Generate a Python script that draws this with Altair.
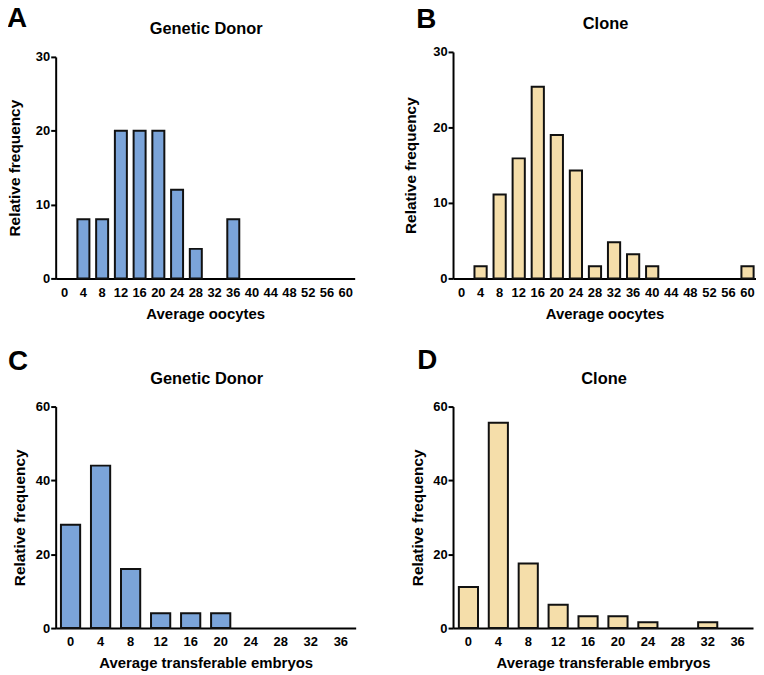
import altair as alt
import pandas as pd

# ---------------- data ----------------
oocyte_bins = [0, 4, 8, 12, 16, 20, 24, 28, 32, 36, 40, 44, 48, 52, 56, 60]
donor_oocytes = [0, 8, 8, 20, 20, 20, 12, 4, 0, 8, 0, 0, 0, 0, 0, 0]
clone_oocytes = [0, 1.6, 11.1, 15.9, 25.4, 19.0, 14.3, 1.6, 4.8, 3.2, 1.6, 0, 0, 0, 0, 1.6]

embryo_bins = [0, 4, 8, 12, 16, 20, 24, 28, 32, 36]
donor_embryos = [28, 44, 16, 4, 4, 4, 0, 0, 0, 0]
clone_embryos = [11.1, 55.6, 17.5, 6.3, 3.2, 3.2, 1.6, 0, 1.6, 0]

oocyte_ticks = [0, 10, 20, 30]
embryo_ticks = [0, 20, 40, 60]

BLUE = "#7BA4D9"
BEIGE = "#F5DEAA"
FONT = "Liberation Sans"
H = 228


def panel(bins, values, color, letter, title, xtitle, ticks, width, top, po,
          title_y, ytitle_x, lx, ly):
    cats = [str(b) for b in bins]
    df = pd.DataFrame({"bin": cats, "freq": values})
    x = alt.X(
        "bin:N", sort=cats,
        scale=alt.Scale(domain=cats, paddingInner=0.36, paddingOuter=po),
        axis=alt.Axis(title=xtitle, labelAngle=0, ticks=False, tickSize=0,
                      labelPadding=18, labelBaseline="alphabetic",
                      labelFont=FONT, labelFontSize=13, labelFontWeight="bold",
                      labelColor="black", domainColor="black", domainWidth=2,
                      titleFont=FONT, titleFontSize=15, titleFontWeight="bold",
                      titleColor="black", titleBaseline="alphabetic", titleY=40),
    )
    y = alt.Y(
        "freq:Q",
        scale=alt.Scale(domain=[ticks[0], ticks[-1]], range=[H, top]),
        axis=alt.Axis(title="Relative frequency", values=ticks, grid=False,
                      tickSize=5, tickWidth=2, tickColor="black",
                      labelPadding=1, labelFont=FONT, labelFontSize=13,
                      labelFontWeight="bold", labelColor="black",
                      domainColor="black", domainWidth=2,
                      titleFont=FONT, titleFontSize=15.5, titleFontWeight="bold",
                      titleColor="black", titleBaseline="alphabetic",
                      titleX=ytitle_x, titleAngle=270),
    )
    bars = (
        alt.Chart(df)
        .transform_filter("datum.freq > 0")
        .mark_bar(fill=color, stroke="#111111", strokeWidth=2)
        .encode(x=x, y=y)
    )
    lab = (
        alt.Chart(pd.DataFrame({"t": [letter]}))
        .mark_text(font=FONT, fontSize=28, fontWeight="bold", color="black",
                   align="left", baseline="alphabetic")
        .encode(text="t:N", x=alt.value(lx), y=alt.value(ly))
    )
    ttl = (
        alt.Chart(pd.DataFrame({"t": [title]}))
        .mark_text(font=FONT, fontSize=16.5, fontWeight="bold", color="black",
                   align="center", baseline="alphabetic")
        .encode(text="t:N", x=alt.value(width / 2 + 1), y=alt.value(title_y))
    )
    return alt.layer(bars, lab, ttl).properties(width=width, height=H)


pA = panel(oocyte_bins, donor_oocytes, BLUE, "A", "Genetic Donor",
           "Average oocytes", oocyte_ticks, 301, 5, 0.16, -18, -36, -49, -25)
pB = panel(oocyte_bins, clone_oocytes, BEIGE, "B", "Clone",
           "Average oocytes", oocyte_ticks, 305, 0, 0.125, -23, -38, -37, -24)
pC = panel(embryo_bins, donor_embryos, BLUE, "C", "Genetic Donor",
           "Average transferable embryos", embryo_ticks, 302, 5, 0.175, -17.5, -31, -48, -32)
pD = panel(embryo_bins, clone_embryos, BEIGE, "D", "Clone",
           "Average transferable embryos", embryo_ticks, 302, 5, 0.195, -18, -31, -36, -33)

chart = (
    alt.concat(pA, pB, pC, pD, columns=2, spacing={"row": 124, "column": 98},
               bounds="flush", align="each")
    .properties(padding={"top": -5, "left": -1, "right": 0, "bottom": 0})
    .configure_view(stroke=None)
)

chart.save("out.html", embed_options={"renderer": "svg", "actions": False})
